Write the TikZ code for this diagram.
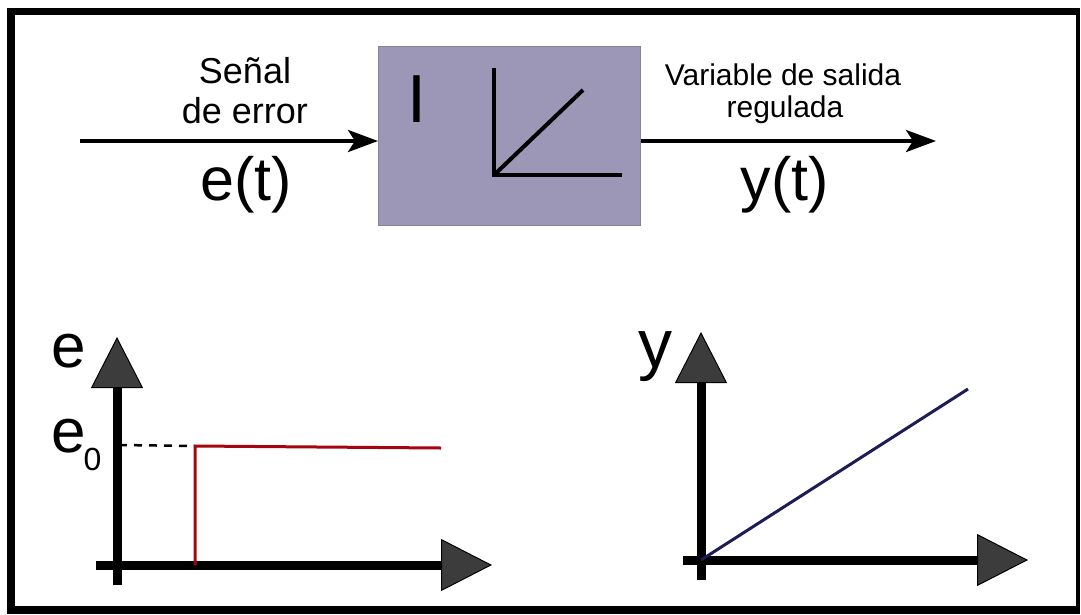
\documentclass[tikz,border=0pt]{standalone}
\usepackage{fontspec}
\setmainfont{Liberation Sans}
\usetikzlibrary{arrows.meta}
\definecolor{boxfill}{RGB}{157,151,183}
\definecolor{boxedge}{RGB}{135,130,155}
\definecolor{tipgray}{RGB}{60,60,60}
\definecolor{stepred}{RGB}{165,5,15}
\definecolor{rampblue}{RGB}{30,28,85}
\begin{document}
\begin{tikzpicture}[x=1pt,y=-1pt,
  txt/.style={inner sep=0pt, anchor=base},
  sig/.style={line width=4pt, -{Stealth[length=30pt,width=22pt,inset=7pt]}},
  axis/.style={line width=9pt, -{Triangle[length=51pt,width=52pt,line width=1pt,fill=tipgray]}},
  inax/.style={line width=4pt}]
\useasboundingbox (0,0) rectangle (1081,614);
% frame
\fill[black] (7,8) rectangle (1080,614);
\fill[white] (15,15) rectangle (1076,606);

% block
\node[draw=boxedge, line width=1pt, fill=boxfill, minimum width=262pt, minimum height=179pt,
      inner sep=0pt, anchor=north west] (blk) at (378,46) {};
\node[txt, font=\fontsize{68}{68}\selectfont] (ilab) at (417,122) {I};
\coordinate (ia0) at (494,175);
\coordinate (iay) at (494,68);
\coordinate (iax) at (622,175);
\coordinate (iad) at (583,90);
\draw[inax] (iay) -- (ia0) -- (iax);
\draw[inax] (ia0) -- (iad);

% signals
\coordinate (in) at (80,141);
\coordinate (out) at (936,141);
\draw[sig] (in) -- (in -| blk.west);
\draw[sig] (in -| blk.east) -- (out);

\node[txt, font=\fontsize{36}{36}\selectfont] (senal) at (245,83) {Señal};
\node[txt, font=\fontsize{36}{36}\selectfont] (deerr) at (245,123) {de error};
\node[txt, font=\fontsize{61}{61}\selectfont] (et) at (246,200) {e(t)};
\node[txt, font=\fontsize{30}{30}\selectfont] (var) at (783,85) {Variable de salida};
\node[txt, font=\fontsize{30}{30}\selectfont] (reg) at (785,117) {regulada};
\node[txt, font=\fontsize{61}{61}\selectfont] (yt) at (785,200) {y(t)};

% left graph
\coordinate (lyb) at (117,585);
\coordinate (lyt) at (117,337);
\coordinate (lxl) at (96,565);
\coordinate (lxr) at (492,565);
\draw[axis] (lyb) -- (lyt);
\draw[axis] (lxl) -- (lxr);
\coordinate (dl) at (119,445);
\coordinate (sb) at (195,565);
\coordinate (st) at (195,446);
\coordinate (se) at (441,448);
\draw[line width=2.5pt, dash pattern=on 8pt off 7pt] (dl) -- (st);
\draw[stepred, line width=3pt] (sb) -- (st) -- (se);
\node[txt, font=\fontsize{62}{62}\selectfont] (elab) at (68.5,367) {e};
\node[txt, font=\fontsize{62}{62}\selectfont] (e0lab) at (68.5,452) {e};
\node[txt, font=\fontsize{32}{32}\selectfont] (sub0) at (92.5,470) {0};

% right graph
\coordinate (ryb) at (701,580);
\coordinate (ryt) at (701,332);
\coordinate (rxl) at (683,560);
\coordinate (rxr) at (1028,560);
\coordinate (ro) at (701,560);
\coordinate (rend) at (968,389);
\draw[axis] (ryb) -- (ryt);
\draw[axis] (rxl) -- (rxr);
\draw[rampblue, line width=3pt] (ro) -- (rend);
\node[txt, font=\fontsize{68}{68}\selectfont] (ylab) at (655.5,367) {y};
\end{tikzpicture}
\end{document}
